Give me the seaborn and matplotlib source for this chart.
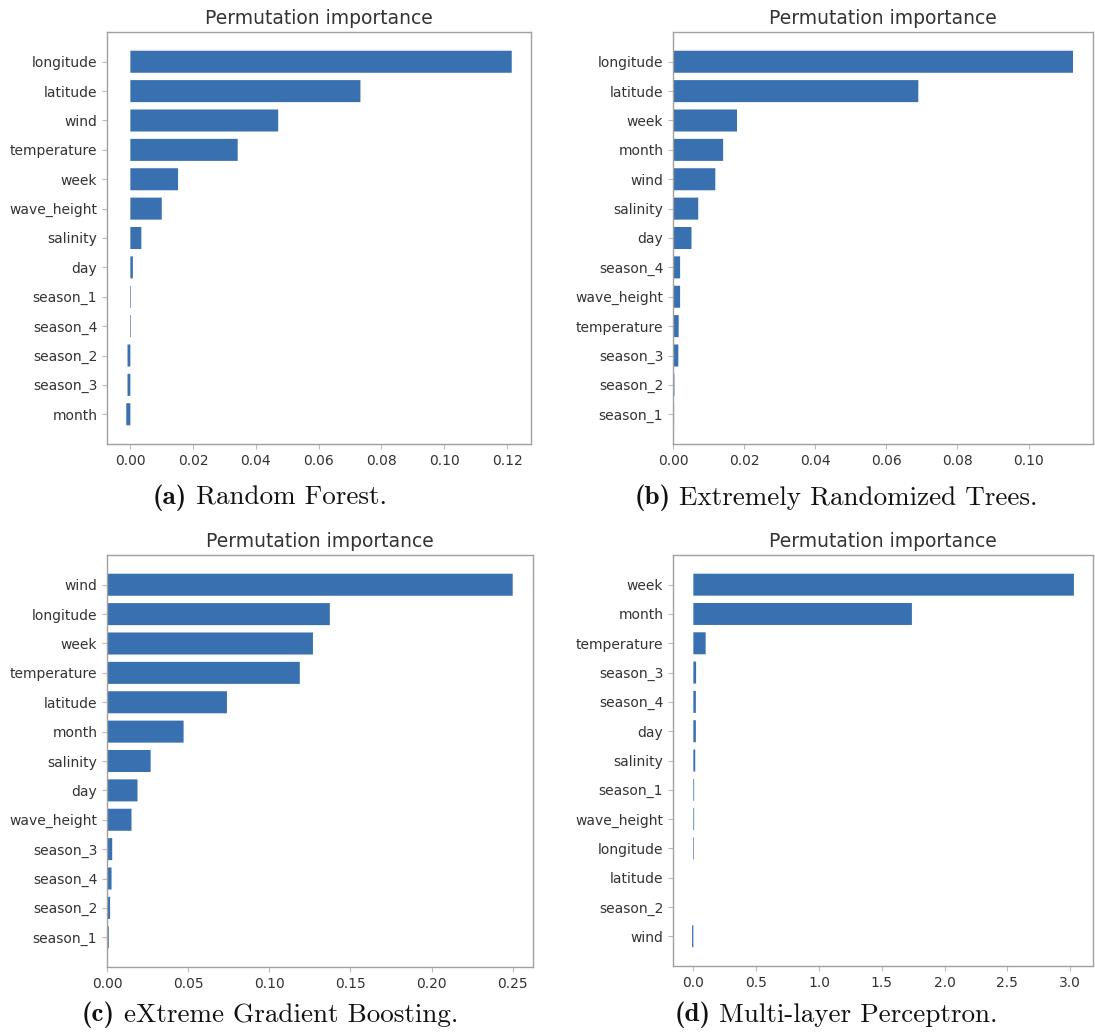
import matplotlib
matplotlib.use('Agg')
import matplotlib.pyplot as plt
import seaborn as sns

# feature names (top to bottom) and permutation importances for each model
rf_features = ['longitude', 'latitude', 'wind', 'temperature', 'week', 'wave_height',
               'salinity', 'day', 'season_1', 'season_4', 'season_2', 'season_3', 'month']
rf_values = [0.1215, 0.0733, 0.0471, 0.0342, 0.0152, 0.0100,
             0.0035, 0.0008, 0.0002, 0.0002, -0.0009, -0.0009, -0.0013]

et_features = ['longitude', 'latitude', 'week', 'month', 'wind', 'salinity', 'day',
               'season_4', 'wave_height', 'temperature', 'season_3', 'season_2', 'season_1']
et_values = [0.1125, 0.0690, 0.0180, 0.0141, 0.0119, 0.0071, 0.0052,
             0.0020, 0.0020, 0.0016, 0.0015, 0.0004, 0.0003]

xgb_features = ['wind', 'longitude', 'week', 'temperature', 'latitude', 'month', 'salinity',
                'day', 'wave_height', 'season_3', 'season_4', 'season_2', 'season_1']
xgb_values = [0.2500, 0.1373, 0.1269, 0.1188, 0.0739, 0.0472, 0.0269,
              0.0188, 0.0151, 0.0032, 0.0028, 0.0019, 0.0011]

mlp_features = ['week', 'month', 'temperature', 'season_3', 'season_4', 'day', 'salinity',
                'season_1', 'wave_height', 'longitude', 'latitude', 'season_2', 'wind']
mlp_values = [3.03, 1.74, 0.098, 0.022, 0.020, 0.020, 0.015,
              0.006, 0.006, 0.005, 0.0, 0.0, -0.010]

cap_tags = ['(a)', '(b)', '(c)', '(d)']
cap_names = ['Random Forest.', 'Extremely Randomized Trees.',
             'eXtreme Gradient Boosting.', 'Multi-layer Perceptron.']

sns.set_style('white')
plt.rcParams['font.family'] = ['DejaVu Sans']

W, H = 1095, 1032
fig = plt.figure(figsize=(W / 100, H / 100), dpi=100)

# axes boxes in pixels: left, top, right, bottom
boxes = [(107, 32, 531, 444), (673, 32, 1093, 444),
         (107, 555, 533, 967), (673, 555, 1093, 966)]
panels = [(rf_features, rf_values), (et_features, et_values),
          (xgb_features, xgb_values), (mlp_features, mlp_values)]
cap_pos = [(270, 498), (836, 498), (270, 1015), (836, 1015)]

bar_h = 0.75
bar_color = '#3870b0'

for (feats, vals), (l, t, r, b) in zip(panels, boxes):
    ax = fig.add_axes([l / W, 1 - b / H, (r - l) / W, (b - t) / H])
    sns.barplot(x=vals, y=feats, orient='h', color=bar_color, saturation=1,
                width=bar_h, edgecolor='none', linewidth=0, snap=False, ax=ax)
    n = len(feats)
    pad = bar_h / 2 + 0.05 * (n - 1 + bar_h)
    ax.set_ylim(n - 1 + pad, -pad)
    ax.set_title('Permutation importance', fontsize=13.5, color='#333333', pad=6)
    for s in ax.spines.values():
        s.set_color('#a0a0a0')
        s.set_linewidth(1.0)
        s.set_visible(True)
    ax.tick_params(axis='both', labelsize=10, colors='#bbbbbb', labelcolor='#333333',
                   length=3.5, width=0.8, left=True, bottom=True)
    ax.set_xlabel('')
    ax.set_ylabel('')

# captions: bold tag + roman name, centred as a group
renderer = fig.canvas.get_renderer()
for tag, name, (cx, cy) in zip(cap_tags, cap_names, cap_pos):
    y = 1 - cy / H
    t1 = fig.text(0, y, tag, ha='left', va='center', fontsize=19.5,
                  family=['cmb10', 'DejaVu Serif'], color='#111111')
    t2 = fig.text(0, y, name, ha='left', va='center', fontsize=19.5,
                  family=['cmr10', 'DejaVu Serif'], color='#111111')
    w1 = t1.get_window_extent(renderer).width
    w2 = t2.get_window_extent(renderer).width
    gap = 9
    x0 = cx - (w1 + gap + w2) / 2
    t1.set_x(x0 / W)
    t2.set_x((x0 + w1 + gap) / W)

plt.savefig('out.png', dpi=100)
